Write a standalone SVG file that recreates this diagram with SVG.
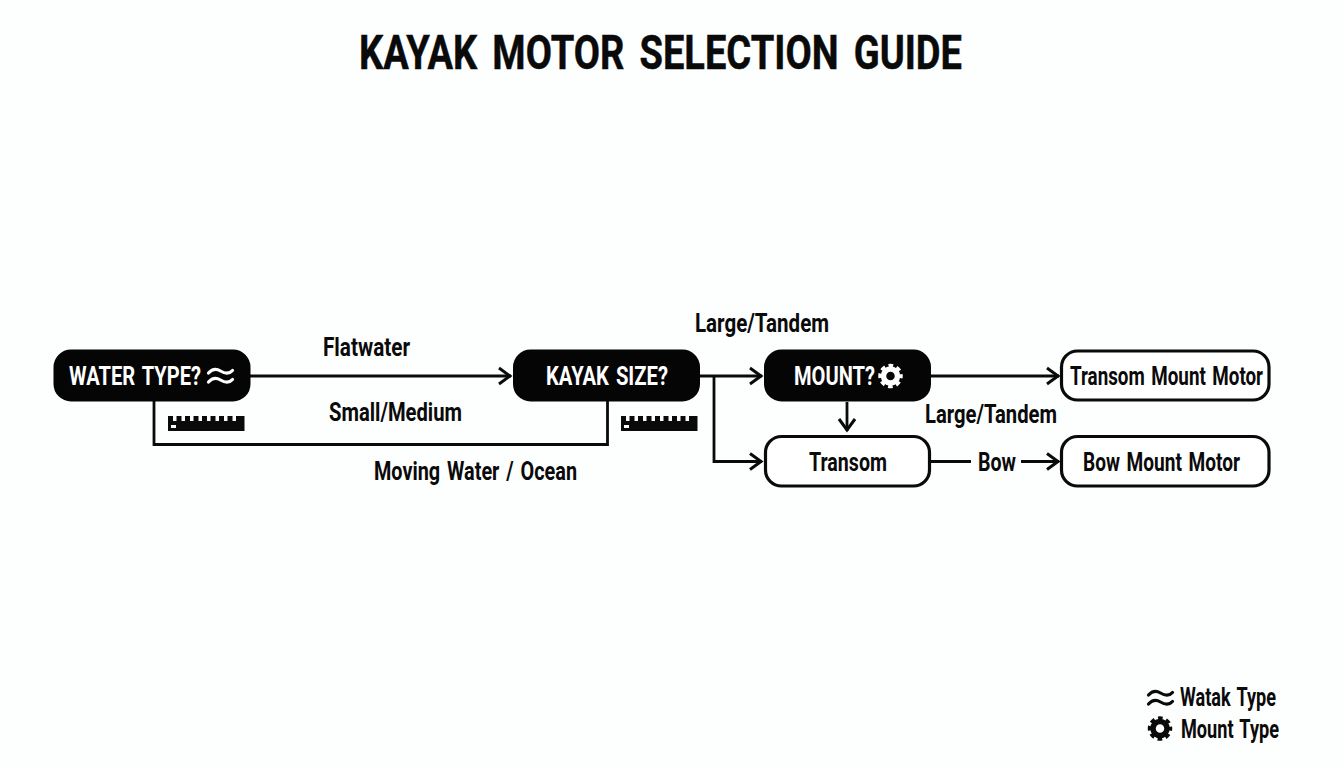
<svg xmlns="http://www.w3.org/2000/svg" width="1344" height="768" viewBox="0 0 1344 768">
<style>
text{font-family:"Roboto","Liberation Sans",sans-serif;font-weight:700;fill:#0a0a0a;font-size:25px;word-spacing:.1em}
.w{fill:#fff}
.title{font-size:49px;word-spacing:.15em;stroke:#0a0a0a;stroke-width:.5px}
.dark{fill:#050505;stroke:#050505;stroke-width:3}
.light{fill:#fff;stroke:#0a0a0a;stroke-width:3.2}
.c{fill:none;stroke:#0a0a0a;stroke-width:2.800}
.ah{fill:none;stroke:#0a0a0a;stroke-width:3}
.wave{fill:none;stroke-width:3.200;stroke-linecap:round}
</style>
<defs>
<marker id="arr" viewBox="0 0 16 20" refX="14" refY="10" markerWidth="16" markerHeight="20" markerUnits="userSpaceOnUse" orient="auto">
<path d="M2 2 L13 10 L2 18" class="ah"/>
</marker>
<g id="ruler">
<path d="M0 0H5V5H8.500V0H13.500V5H17V0H22V5H25.500V0H30.500V5H34V0H39V5H42.500V0H47.500V5H51V0H56V5H59.500V0H64.500V5H68V0H76.500V15H0Z" fill="#0a0a0a"/>
<rect x="3" y="9" width="5" height="3" fill="#fff"/>
</g>
<g id="gear">
<circle r="7" fill="none" stroke="currentColor" stroke-width="5.500"/>
<circle r="10.500" fill="none" stroke="currentColor" stroke-width="3.500" stroke-dasharray="4.600 3.650" stroke-dashoffset="2.300"/>
</g>
<g id="wave">
<path d="M1 5.500 C5 1 9 1 13 3.500 S21 7.500 25 3" class="wave" stroke="currentColor"/>
<path d="M1 14.500 C5 10 9 10 13 12.500 S21 16.500 25 12" class="wave" stroke="currentColor"/>
</g>
</defs>
<rect width="1344" height="768" fill="#fdfefe"/>
<text id="title" class="title" x="359" y="69" textLength="603" lengthAdjust="spacingAndGlyphs">KAYAK MOTOR SELECTION GUIDE</text>
<g id="connectors">
<path class="c" d="M250 376H511" marker-end="url(#arr)"/>
<path class="c" d="M154 401V444.500H607.500V401"/>
<path class="c" d="M700 376H762" marker-end="url(#arr)"/>
<path class="c" d="M714 376V461.500H762" marker-end="url(#arr)"/>
<path class="c" d="M847 402V431" marker-end="url(#arr)"/>
<path class="c" d="M931 376H1059" marker-end="url(#arr)"/>
<path class="c" d="M931 461.500H971"/>
<path class="c" d="M1021 461.500H1059" marker-end="url(#arr)"/>
</g>
<g id="edge-labels">
<text x="323" y="356" textLength="87" lengthAdjust="spacingAndGlyphs">Flatwater</text>
<text x="329" y="421" textLength="133" lengthAdjust="spacingAndGlyphs">Small/Medium</text>
<text x="374" y="480" textLength="203" lengthAdjust="spacingAndGlyphs">Moving Water / Ocean</text>
<text x="695" y="332" textLength="134" lengthAdjust="spacingAndGlyphs">Large/Tandem</text>
<text x="925" y="423" textLength="132" lengthAdjust="spacingAndGlyphs">Large/Tandem</text>
<text x="978" y="471" textLength="38" lengthAdjust="spacingAndGlyphs">Bow</text>
</g>
<g id="node-water">
<rect class="dark" x="55" y="351" width="194" height="49" rx="16"/>
<text class="w" x="69" y="385" textLength="132" lengthAdjust="spacingAndGlyphs">WATER TYPE?</text>
<use href="#wave" x="207.500" y="367.500" color="#fff"/>
</g>
<g id="node-kayak">
<rect class="dark" x="514.500" y="351" width="184" height="49" rx="16"/>
<text class="w" x="546" y="385" textLength="122" lengthAdjust="spacingAndGlyphs">KAYAK SIZE?</text>
</g>
<g id="node-mount">
<rect class="dark" x="765.500" y="351" width="164" height="49" rx="16"/>
<text class="w" x="794" y="385" textLength="81" lengthAdjust="spacingAndGlyphs">MOUNT?</text>
<use href="#gear" x="890.500" y="376" color="#fff"/>
</g>
<g id="node-transom">
<rect class="light" x="765.500" y="436.500" width="164" height="49.500" rx="16"/>
<text x="809" y="470.500" textLength="78" lengthAdjust="spacingAndGlyphs">Transom</text>
</g>
<g id="node-transom-motor">
<rect class="light" x="1061.500" y="351" width="207.500" height="49" rx="16"/>
<text x="1070" y="385" textLength="193" lengthAdjust="spacingAndGlyphs">Transom Mount Motor</text>
</g>
<g id="node-bow-motor">
<rect class="light" x="1061.500" y="436.500" width="207.500" height="49.500" rx="16"/>
<text x="1083" y="470.500" textLength="157" lengthAdjust="spacingAndGlyphs">Bow Mount Motor</text>
</g>
<use href="#ruler" x="168" y="416"/>
<use href="#ruler" x="621" y="416"/>
<g id="legend">
<use href="#wave" x="1147.500" y="689.500" color="#0a0a0a"/>
<text x="1180" y="706" textLength="96" lengthAdjust="spacingAndGlyphs">Watak Type</text>
<use href="#gear" x="1160" y="728.500" color="#0a0a0a"/>
<text x="1181" y="738" textLength="98" lengthAdjust="spacingAndGlyphs">Mount Type</text>
</g>
</svg>
